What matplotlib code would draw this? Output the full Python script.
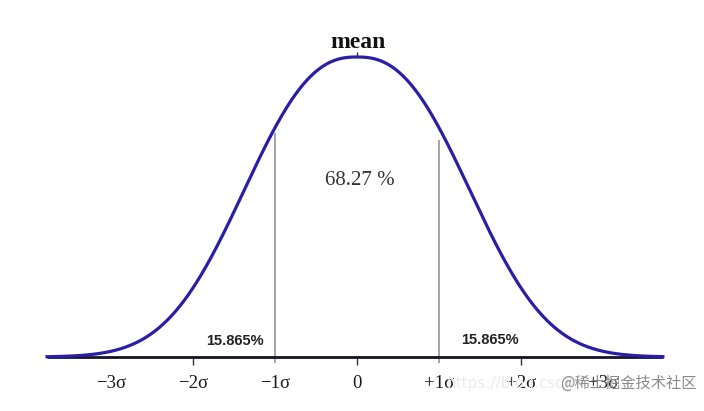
import numpy as np
import matplotlib.pyplot as plt

# x in sigma units, y as fraction of the peak height
tick_pos = [-3, -2, -1, 0, 1, 2, 3]
tick_labels = ["\u22123\u03c3", "\u22122\u03c3", "\u22121\u03c3", "0", "+1\u03c3", "+2\u03c3", "+3\u03c3"]
marked_ticks = [-2, 0, 2]
band_edges = [-1, 1]
band_tops = [0.747, 0.723]
center_pct = "68.27 %"
tail_pct = "15.865%"
curve_span = (-3.78, 3.73)
curve_width = 1.71
curve_shape = 2.45


def bell(x):
    return np.exp(-np.abs(x / curve_width) ** curve_shape)


def main():
    fig = plt.figure(figsize=(7.04, 4.11), dpi=100)
    ax = fig.add_axes([0, 0, 1, 1])
    ax.set_xlim(-357 / 82, (704 - 357) / 82)
    ax.set_ylim(-54 / 300, 357 / 300)
    ax.axis("off")

    x = np.linspace(curve_span[0], curve_span[1], 600)
    ax.hlines(0, curve_span[0], curve_span[1], color="#141428", lw=2.0, zorder=2)
    ax.plot(x, bell(x), color="#2a1ea6", lw=2.3, zorder=3)

    ax.vlines(band_edges, -0.02, band_tops, color="#8c8c8c", lw=1.1, zorder=1)
    ax.vlines(marked_ticks, -0.027, 0, color="#333333", lw=1.0, zorder=1)
    ax.vlines(0, 1.0, 1.018, color="#333333", lw=1.0)

    for p, lab in zip(tick_pos, tick_labels):
        ax.text(p, -0.087, lab, ha="center", va="center", fontsize=13.5,
                family="Liberation Serif", color="#1a1a1a")

    ax.text(0.01, 1.047, "mean", ha="center", va="center", fontsize=17,
            family="Liberation Serif", weight="bold", color="#111111")
    ax.text(0.04, 0.587, center_pct, ha="center", va="center", fontsize=15,
            family="Liberation Serif", color="#333333")
    ax.text(-1.49, 0.053, tail_pct, ha="center", va="center", fontsize=10.5,
            family="Liberation Sans", weight="bold", color="#222222")
    ax.text(1.62, 0.057, tail_pct, ha="center", va="center", fontsize=10.5,
            family="Liberation Sans", weight="bold", color="#222222")

    # watermarks
    fig.text(447 / 704, 1 - 383 / 411, "https://blog.csdn", ha="left", va="center",
             fontsize=11, family="DejaVu Sans", color="#ececec", zorder=4)
    fig.text(560 / 704, 1 - 383 / 411, "@稀土掘金技术社区", ha="left", va="center",
             fontsize=11, family=["Noto Sans CJK SC", "DejaVu Sans"], color="#8a8a8a", zorder=5)

    fig.savefig("out.png", dpi=100, facecolor="white")


if __name__ == "__main__":
    main()
